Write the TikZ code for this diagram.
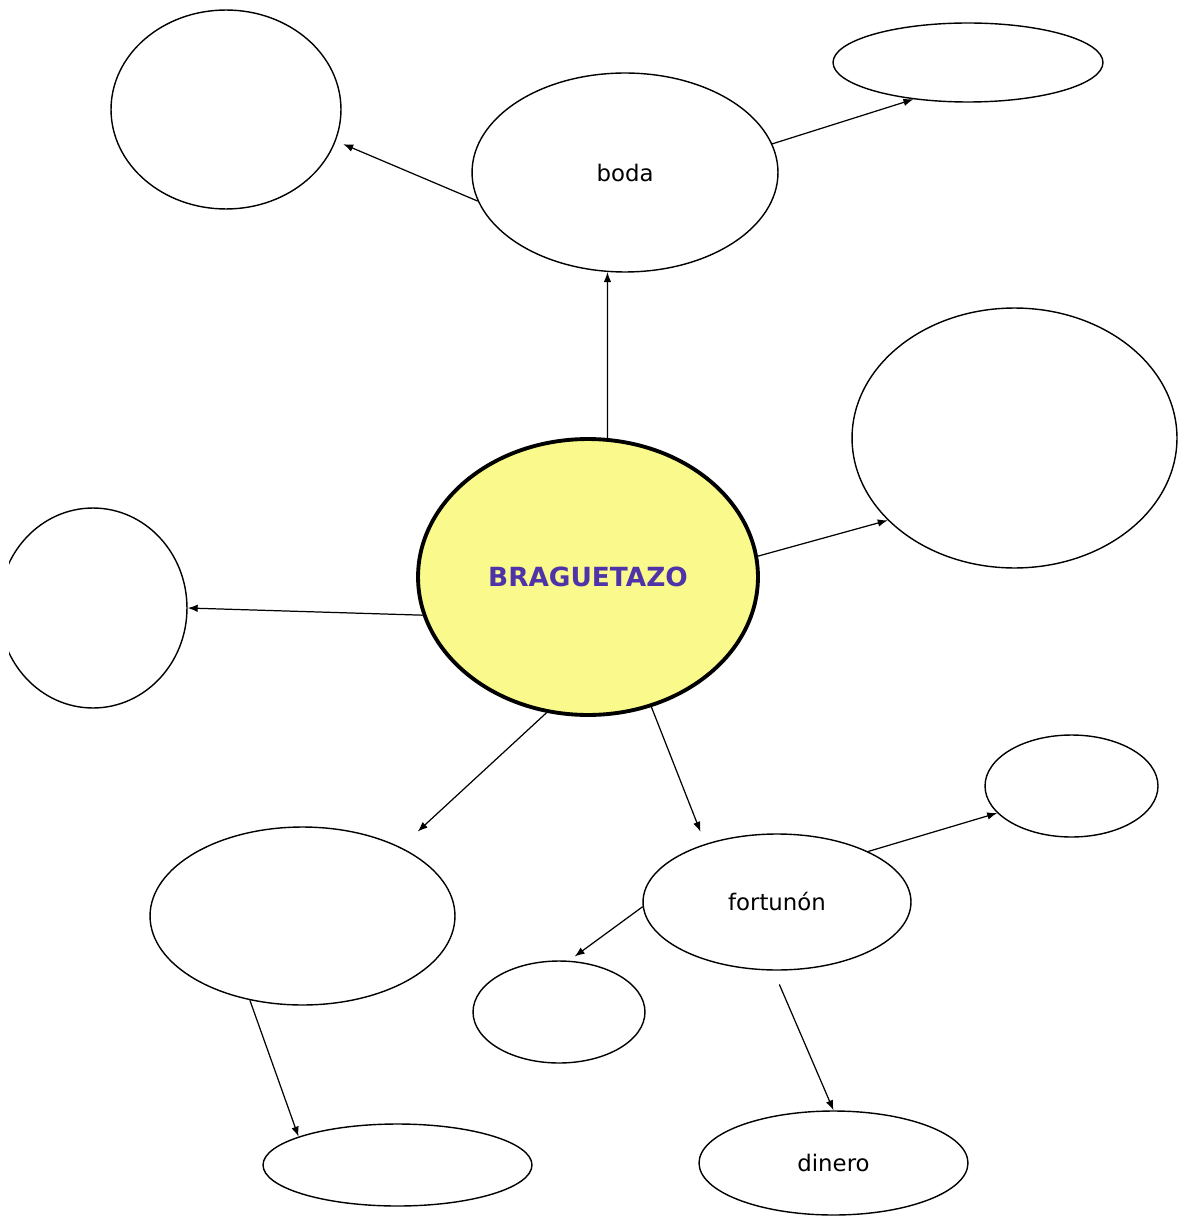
\documentclass[tikz,border=0pt]{standalone}
\usepackage{fontspec}
\setmainfont{DejaVu Sans}
\usetikzlibrary{shapes.geometric,arrows.meta}
\definecolor{amarillo}{RGB}{250,250,140}
\definecolor{morado}{RGB}{78,52,168}

\begin{document}
\begin{tikzpicture}[x=0.02cm,y=-0.02cm,
  globo/.style={draw,ellipse,line width=0.8pt,inner sep=0pt,font=\fontsize{13}{15}\selectfont},
  flecha/.style={line width=0.7pt,-{Latex[length=2mm,width=1.5mm]}}]
  \useasboundingbox (0,0) rectangle (1184,1216);
  \node[globo,minimum width=4.6cm,minimum height=3.98cm] (tl) at (226,109.5) {};
  \node[globo,minimum width=6.12cm,minimum height=3.98cm] (boda) at (625,172.5) {boda};
  \node[globo,minimum width=5.4cm,minimum height=1.58cm] (tr) at (968,62.5) {};
  \node[globo,minimum width=6.5cm,minimum height=5.2cm] (der) at (1014.5,438) {};
  \node[globo,fill=amarillo,line width=2.2pt,minimum width=6.8cm,minimum height=5.52cm,
        font=\fontsize{15}{18}\selectfont\bfseries,text=morado] (brag) at (588,577) {BRAGUETAZO};
  \begin{scope}
    \clip (9,0) rectangle (1184,1216);
    \node[globo,minimum width=3.76cm,minimum height=4cm] (izq) at (93,608) {};
  \end{scope}
  \node[globo,minimum width=6.1cm,minimum height=3.56cm] (bl) at (302.5,916) {};
  \node[globo,minimum width=5.36cm,minimum height=2.72cm] (fort) at (777,902) {fortunón};
  \node[globo,minimum width=3.46cm,minimum height=2.04cm] (sr) at (1071.5,786) {};
  \node[globo,minimum width=3.44cm,minimum height=2.04cm] (sm) at (559,1012) {};
  \node[globo,minimum width=5.38cm,minimum height=1.64cm] (bot) at (397.5,1165) {};
  \node[globo,minimum width=5.38cm,minimum height=2.08cm] (din) at (833.5,1163) {dinero};
  % flechas
  \draw[flecha] (brag.82) -- (boda.-100);
  \draw[flecha,shorten >=0.16cm] (boda.191) -- (tl.-16);
  \draw[flecha] (boda.11) -- (tr.-146);
  \draw[flecha] (brag.7) -- (der.-147.5);
  \draw[flecha] (brag.193) -- (izq.east);
  \draw[flecha,shorten >=0.46cm] (brag.-107) -- (bl.35);
  \draw[flecha,shorten >=0.26cm] (brag.-64) -- (fort.141);
  \draw[flecha] (fort.29) -- (sr.-160);
  \draw[flecha,shorten >=0.14cm] (fort.182) -- (sm.79);
  \draw[flecha,shorten <=0.3cm] (fort.-93) -- (din.north);
  \draw[flecha] (bl.-122) -- (bot.164);
\end{tikzpicture}
\end{document}
